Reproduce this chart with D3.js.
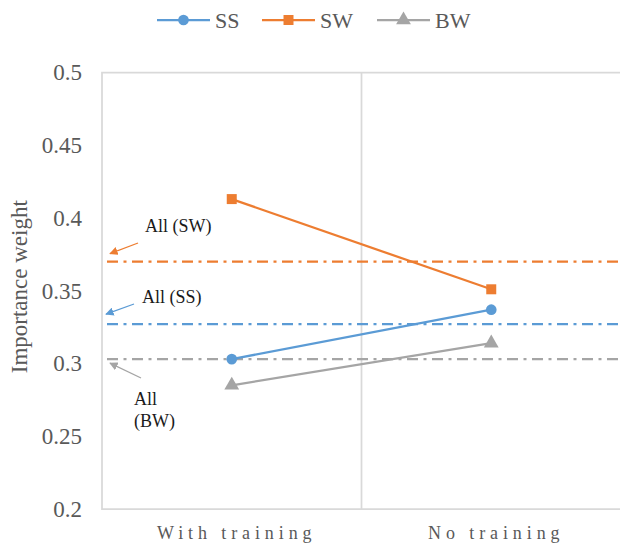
<!DOCTYPE html>
<html>
<head>
<meta charset="utf-8">
<script src="https://cdn.jsdelivr.net/npm/d3@7"></script>
<style>
  html, body { margin: 0; padding: 0; background: #fff; }
  svg { display: block; }
  text { font-family: "Liberation Serif", "Times New Roman", serif; }
</style>
</head>
<body>
<svg id="chart" width="620" height="555"></svg>
<script>
// Conditions on the x axis
const categories = ["With training", "No training"];

// Mean importance weight per attribute group
const ssValues = [0.303, 0.337];
const swValues = [0.413, 0.351];
const bwValues = [0.285, 0.314];

// Pooled ("All") weights shown as reference lines
const allSS = 0.327;
const allSW = 0.370;
const allBW = 0.303;

const yTicks = [0.2, 0.25, 0.3, 0.35, 0.4, 0.45, 0.5];

const series = [
  { name: "SS", values: ssValues, color: "#5b9bd5", marker: "circle" },
  { name: "SW", values: swValues, color: "#ed7d31", marker: "square" },
  { name: "BW", values: bwValues, color: "#a5a5a5", marker: "triangle" }
];

const svg = d3.select("#chart");
const plot = { left: 102, right: 621, top: 72.5, bottom: 509 };

const x = d3.scaleBand().domain(categories).range([plot.left, plot.right]);
const y = d3.scaleLinear().domain([0.2, 0.5]).range([plot.bottom, plot.top]);
const cx = c => x(c) + x.bandwidth() / 2;

// Plot frame (left, top, bottom) and category divider
const frame = svg.append("g").attr("stroke", "#d9d9d9").attr("stroke-width", 1.75).attr("fill", "none");
frame.append("path").attr("d", `M${plot.right},${plot.top}H${plot.left}V${plot.bottom}H${plot.right}`);
frame.append("line")
  .attr("x1", x(categories[1])).attr("x2", x(categories[1]))
  .attr("y1", plot.top).attr("y2", plot.bottom);

// Y axis tick labels
const yAxis = d3.axisLeft(y).tickValues(yTicks).tickSize(0).tickPadding(20)
  .tickFormat(d => String(+d.toFixed(2)));
const yg = svg.append("g").attr("transform", `translate(${plot.left},0)`).call(yAxis);
yg.attr("font-family", null);
yg.select(".domain").remove();
yg.selectAll("text")
  .attr("fill", "#595959")
  .style("font-family", "'Liberation Serif', serif")
  .style("font-size", "23px");

// X axis category labels (letter-spaced)
const xAxis = d3.axisBottom(x).tickSize(0).tickPadding(17);
const xg = svg.append("g").attr("transform", `translate(0,${plot.bottom})`).call(xAxis);
xg.attr("font-family", null);
xg.select(".domain").remove();
xg.selectAll("text")
  .attr("fill", "#595959")
  .attr("dy", "0.71em")
  .attr("dx", 5)
  .style("font-family", "'Liberation Serif', serif")
  .style("font-size", "18px")
  .style("letter-spacing", "4.9px");

// Y axis title
svg.append("text")
  .attr("transform", `translate(27,${(plot.top + plot.bottom) / 2 - 4}) rotate(-90)`)
  .attr("text-anchor", "middle")
  .attr("fill", "#595959")
  .style("font-size", "23px")
  .text("Importance weight");

// Pooled reference lines (dash-dot)
const refs = [
  { v: allSW, color: "#ed7d31" },
  { v: allSS, color: "#5b9bd5" },
  { v: allBW, color: "#a5a5a5" }
];
svg.append("g").selectAll("line").data(refs).join("line")
  .attr("x1", plot.left + 5).attr("x2", plot.right)
  .attr("y1", d => y(d.v)).attr("y2", d => y(d.v))
  .attr("stroke", d => d.color)
  .attr("stroke-width", 2.25)
  .attr("stroke-dasharray", "11,5.5,3,5.5");

// Series lines
const line = d3.line().x((d, i) => cx(categories[i])).y(d => y(d));
svg.append("g").selectAll("path").data(series).join("path")
  .attr("d", d => line(d.values))
  .attr("fill", "none")
  .attr("stroke", d => d.color)
  .attr("stroke-width", 2.25);

// Markers
const symbolFor = m => m === "circle" ? d3.symbol(d3.symbolCircle, 90)
  : m === "square" ? d3.symbol(d3.symbolSquare, 100)
  : d3.symbol(d3.symbolTriangle, 95);
series.forEach(s => {
  svg.append("g").selectAll("path").data(s.values).join("path")
    .attr("transform", (d, i) => `translate(${cx(categories[i])},${y(d)})`)
    .attr("d", symbolFor(s.marker)())
    .attr("fill", s.color);
});

// Annotations with arrows
const defs = svg.append("defs");
[["ar-sw", "#ed7d31"], ["ar-ss", "#5b9bd5"], ["ar-bw", "#a5a5a5"]].forEach(([id, c]) => {
  defs.append("marker").attr("id", id)
    .attr("viewBox", "0 0 10 10").attr("refX", 9).attr("refY", 5)
    .attr("markerWidth", 6.5).attr("markerHeight", 6.5)
    .attr("markerUnits", "strokeWidth")
    .attr("orient", "auto")
    .append("path").attr("d", "M0,0L10,5L0,10Z").attr("fill", c);
});

const annots = [
  { id: "ar-sw", color: "#ed7d31", from: [138, 243], ref: allSW, tip: 110, dy: -8, lines: ["All (SW)"], tx: 145, ty: 232 },
  { id: "ar-ss", color: "#5b9bd5", from: [134, 304], ref: allSS, tip: 106, dy: -10, lines: ["All (SS)"], tx: 142, ty: 303 },
  { id: "ar-bw", color: "#a5a5a5", from: [141, 378], ref: allBW, tip: 110, dy: 4, lines: ["All", "(BW)"], tx: 134, ty: 405 }
];
annots.forEach(a => {
  svg.append("line")
    .attr("x1", a.from[0]).attr("y1", a.from[1])
    .attr("x2", a.tip).attr("y2", y(a.ref) + a.dy)
    .attr("stroke", a.color).attr("stroke-width", 1.3)
    .attr("marker-end", `url(#${a.id})`);
  const t = svg.append("text").attr("x", a.tx).attr("y", a.ty)
    .attr("fill", "#1a1a1a").style("font-size", "18px");
  a.lines.forEach((l, i) => t.append("tspan").attr("x", a.tx).attr("dy", i ? 22 : 0).text(l));
});

// Legend
const legend = svg.append("g");
const legendX = [157, 262, 377];
series.forEach((s, i) => {
  const g = legend.append("g").attr("transform", `translate(${legendX[i]},20)`);
  g.append("line").attr("x1", 0).attr("x2", 53).attr("stroke", s.color).attr("stroke-width", 2.25);
  g.append("path").attr("transform", "translate(26.5,0)").attr("d", symbolFor(s.marker)()).attr("fill", s.color);
  g.append("text").attr("x", 58).attr("y", 8).attr("fill", "#595959")
    .style("font-size", "22px").text(s.name);
});
</script>
</body>
</html>
